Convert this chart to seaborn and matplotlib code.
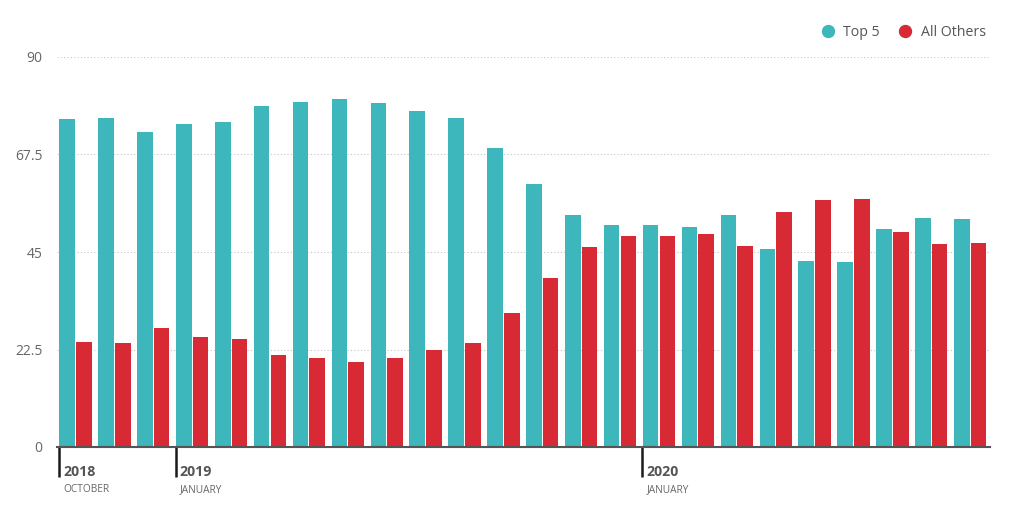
import matplotlib
matplotlib.use("Agg")
import matplotlib.pyplot as plt
import seaborn as sns
import pandas as pd
from matplotlib.lines import Line2D

# ---- data ----
months = ["2018-10", "2018-11", "2018-12",
          "2019-01", "2019-02", "2019-03", "2019-04", "2019-05", "2019-06",
          "2019-07", "2019-08", "2019-09", "2019-10", "2019-11", "2019-12",
          "2020-01", "2020-02", "2020-03", "2020-04", "2020-05", "2020-06",
          "2020-07", "2020-08", "2020-09"]
top5 = [75.7, 75.9, 72.6, 74.6, 75.1, 78.6, 79.5, 80.4, 79.3, 77.5, 76.0, 68.9,
        60.8, 53.6, 51.2, 51.2, 50.7, 53.6, 45.7, 42.9, 42.7, 50.3, 52.9, 52.7]
others = [24.2, 24.0, 27.4, 25.3, 24.9, 21.3, 20.5, 19.6, 20.6, 22.4, 23.9, 31.0,
          39.0, 46.2, 48.7, 48.6, 49.2, 46.3, 54.2, 57.0, 57.2, 49.5, 46.8, 47.0]
series_names = ["Top 5", "All Others"]
colors = ["#3db6bc", "#d72a35"]
yticks = [0, 22.5, 45, 67.5, 90]
ytick_labels = ["0", "22.5", "45", "67.5", "90"]
period_months = ["2018-10", "2019-01", "2020-01"]
period_years = ["2018", "2019", "2020"]
period_names = ["OCTOBER", "JANUARY", "JANUARY"]

df = pd.DataFrame({
    "month": months * 2,
    "value": top5 + others,
    "series": [series_names[0]] * len(months) + [series_names[1]] * len(months),
})

sns.set_theme(style="white")
plt.rcParams['font.family'] = ['Open Sans', 'DejaVu Sans']

W, H = 1024, 521
fig = plt.figure(figsize=(W / 100, H / 100), dpi=100)
ax = fig.add_axes([57 / W, 74 / H, 933 / W, 390 / H])

sns.barplot(data=df, x="month", y="value", hue="series", order=months,
            hue_order=series_names, palette=colors, width=0.86, gap=0.07,
            saturation=1, linewidth=0, legend=False, ax=ax)

ax.set_xlim(-0.476, 23.51)
ax.set_ylim(0, 90)
ax.set_xlabel("")
ax.set_ylabel("")

# y axis
ax.set_yticks(yticks)
ax.set_yticklabels(ytick_labels)
ax.tick_params(axis="y", left=False, length=0, pad=10.5, labelsize=10,
               labelcolor="#666666")
ax.set_axisbelow(True)
ax.yaxis.grid(True, linestyle=(0, (1, 2)), color="#c4c4c4", linewidth=0.8)

for s in ["top", "right", "left"]:
    ax.spines[s].set_visible(False)
ax.spines["bottom"].set_color("#555555")
ax.spines["bottom"].set_linewidth(1.5)

# x axis period ticks
tick_pos = [months.index(m) - 0.425 for m in period_months]
ax.set_xticks(tick_pos)
ax.set_xticklabels([""] * len(tick_pos))
ax.tick_params(axis="x", bottom=True, length=21.6, width=1.8, color="#1a1a1a",
               direction="out")
for p, yr, nm in zip(tick_pos, period_years, period_names):
    ax.annotate(yr, xy=(p, 0), xycoords=("data", "axes fraction"),
                xytext=(4, -25), textcoords="offset pixels",
                ha="left", va="center", fontsize=10.2, fontweight="bold",
                color="#555555")
    ax.annotate(nm, xy=(p, 0), xycoords=("data", "axes fraction"),
                xytext=(4, -43), textcoords="offset pixels",
                ha="left", va="center", fontsize=7.3, color="#666666")

# legend
handles = [Line2D([], [], marker="o", linestyle="", markersize=8.6,
                  markerfacecolor=c, markeredgecolor=c) for c in colors]
fig.legend(handles, series_names, loc="center right",
           bbox_to_anchor=(993 / W, 1 - 32 / H), ncol=2, frameon=False,
           fontsize=10.2, handletextpad=0.6, columnspacing=1.3, borderpad=0,
           handlelength=1, labelcolor="#555555")

fig.savefig("out.png", dpi=100)
